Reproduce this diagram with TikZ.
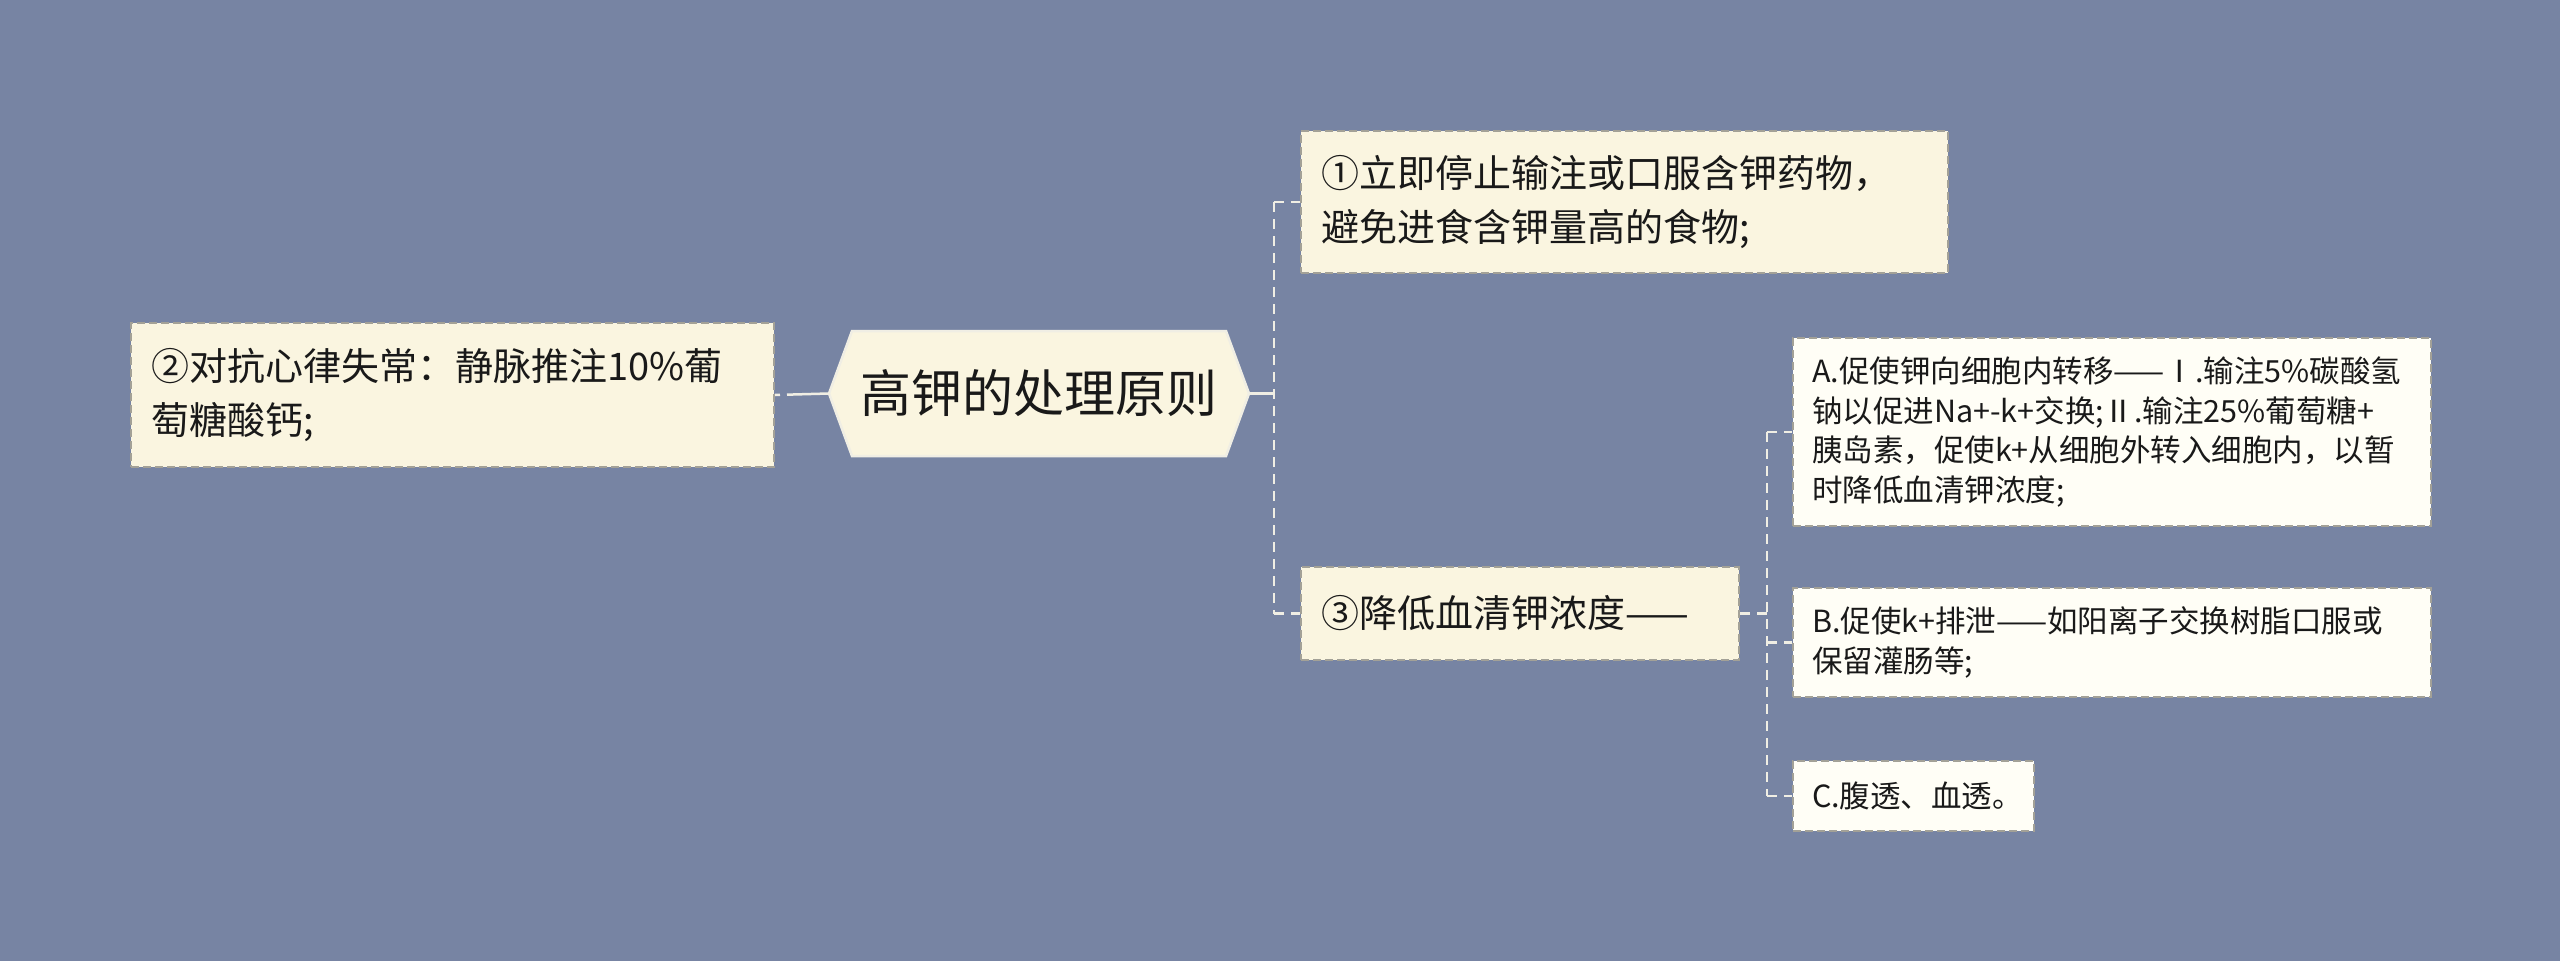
\documentclass[tikz,border=0pt]{standalone}
\usepackage{fontspec}
\setmainfont{Noto Sans CJK SC}
\definecolor{bg}{HTML}{7784A3}
\definecolor{cream}{HTML}{FAF5E0}
\definecolor{light}{HTML}{FFFEF6}
\definecolor{bord}{HTML}{A3A197}
\definecolor{conn}{HTML}{F0EEE4}
\begin{document}
\begin{tikzpicture}[x=1pt,y=-1pt,
  box/.style={draw=bord, dash pattern=on 8pt off 4pt, line width=2pt, fill=cream,
    inner xsep=20pt, inner ysep=0pt, align=left, anchor=center, text=black!90},
  lvlone/.style={box, font=\fontsize{38}{54}\selectfont},
  lvltwo/.style={box, fill=light, inner xsep=19pt, font=\fontsize{30.5}{39.5}\selectfont},
  link/.style={draw=conn, line width=2.5pt},
  dlink/.style={link, dash pattern=on 10pt off 7pt}]
\useasboundingbox (0,0) rectangle (2560,961);
\fill[bg] (0,0) rectangle (2560,961);
% root hexagon
\filldraw[fill=cream, draw=conn, line width=2.5pt]
  (829,393.5) -- (852,331) -- (1226,331) -- (1249,393.5) -- (1226,456) -- (852,456) -- cycle;
\node[inner sep=0pt, minimum width=420pt, minimum height=125pt,
  font=\fontsize{51}{60}\selectfont, text=black!90] (root) at (1039,393.5) {高钾的处理原则};
% first level
\node[lvlone, text width=603pt, minimum height=144pt] (n2) at (452.5,395)
  {②对抗心律失常：静脉推注10\%葡\\萄糖酸钙;};
\node[lvlone, text width=607pt, minimum height=142pt] (n1) at (1624.5,202)
  {①立即停止输注或口服含钾药物，\\避免进食含钾量高的食物;};
\node[lvlone, text width=398pt, minimum height=93pt] (n3) at (1520,613.5)
  {③降低血清钾浓度——};
% second level
\node[lvltwo, text width=600pt, minimum height=188pt] (nA) at (2112,432)
  {A.促使钾向细胞内转移——Ⅰ.输注5\%碳酸氢\\钠以促进Na+-k+交换;Ⅱ.输注25\%葡萄糖+\\胰岛素，促使k+从细胞外转入细胞内，以暂\\时降低血清钾浓度;};
\node[lvltwo, text width=600pt, minimum height=109pt] (nB) at (2112,642.5)
  {B.促使k+排泄——如阳离子交换树脂口服或\\保留灌肠等;};
\node[lvltwo, text width=203pt, minimum height=70pt] (nC) at (1913.5,796)
  {C.腹透、血透。};
% connectors
\coordinate (j1) at (1274,393.5);
\coordinate (j1t) at (1274,202);
\coordinate (j1b) at (1274,613.5);
\coordinate (j2) at (1767,613.5);
\coordinate (j2a) at (1767,432);
\coordinate (j2b) at (1767,642.5);
\coordinate (j2c) at (1767,796);
\draw[link, dash pattern=on 5pt off 7pt on 60pt off 0pt] (n2.east) -- (root.west);
\draw[link] (root.east) -- (j1);
\draw[dlink] (j1t) -- (j1b);
\draw[dlink] (j1t) -- (n1.west);
\draw[dlink] (j1b) -- (n3.west);
\draw[dlink] (n3.east) -- (j2);
\draw[dlink] (j2a) -- (j2c);
\draw[dlink] (j2a) -- (nA.west);
\draw[dlink] (j2b) -- (nB.west);
\draw[dlink] (j2c) -- (nC.west);
\end{tikzpicture}
\end{document}
